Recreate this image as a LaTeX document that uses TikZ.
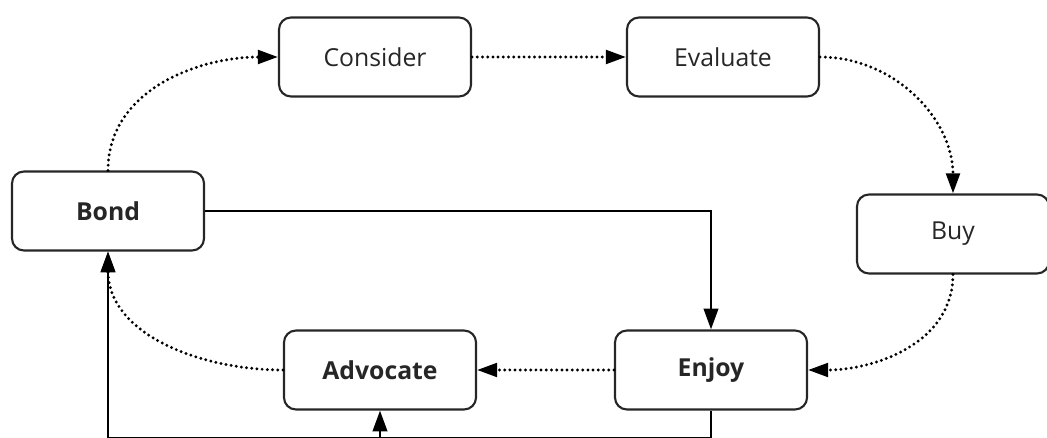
\documentclass[tikz,border=0pt]{standalone}
\usepackage{fontspec}
\setmainfont{Open Sans}
\usetikzlibrary{arrows.meta}
\definecolor{ink}{HTML}{262626}
\tikzset{
  stage/.style={draw=ink, line width=1.5pt, rounded corners=0.3cm, minimum width=4.8cm, minimum height=1.975cm, text=ink, font=\fontsize{17.6}{20}\selectfont},
  keystage/.style={stage, font=\fontsize{17.6}{20}\selectfont\bfseries},
  flow/.style={-{Triangle[length=0.5cm,width=0.34cm]}, line width=2.3pt, dash pattern=on 0pt off 3.7pt, line cap=round},
  link/.style={-{Triangle[length=0.52cm,width=0.36cm]}, line width=1.9pt}
}
\begin{document}
\begin{tikzpicture}[x=0.025cm, y=-0.025cm]
				\useasboundingbox (0,0) rectangle (1047,438);
				\node[keystage] (bond) at (108,211) {Bond};
				\node[stage] (consider) at (375,57) {Consider};
				\node[stage] (evaluate) at (723,57) {Evaluate};
				\node[stage] (buy) at (953,234) {Buy};
				\node[keystage] (enjoy) at (711,370) {Enjoy};
				\node[keystage] (advocate) at (380,370) {Advocate};
				\coordinate (base) at (380,438);
				\draw[flow] (bond.north) to[out=90,in=180] (consider.west);
				\draw[flow] (consider) -- (evaluate);
				\draw[flow] (evaluate.east) to[out=0,in=90] (buy.north);
				\draw[flow] (buy.south) to[out=-90,in=0] (enjoy.east);
				\draw[flow] (enjoy) -- (advocate);
				\draw[flow] (advocate.west) to[out=180,in=-90] (bond.south);
				\draw[link] (bond.east) -| (enjoy.north);
				\draw[link] (enjoy.south) -- ++(0,28) -| (bond.south);
				\draw[link] (base) -- (advocate.south);
			\end{tikzpicture}
\end{document}
